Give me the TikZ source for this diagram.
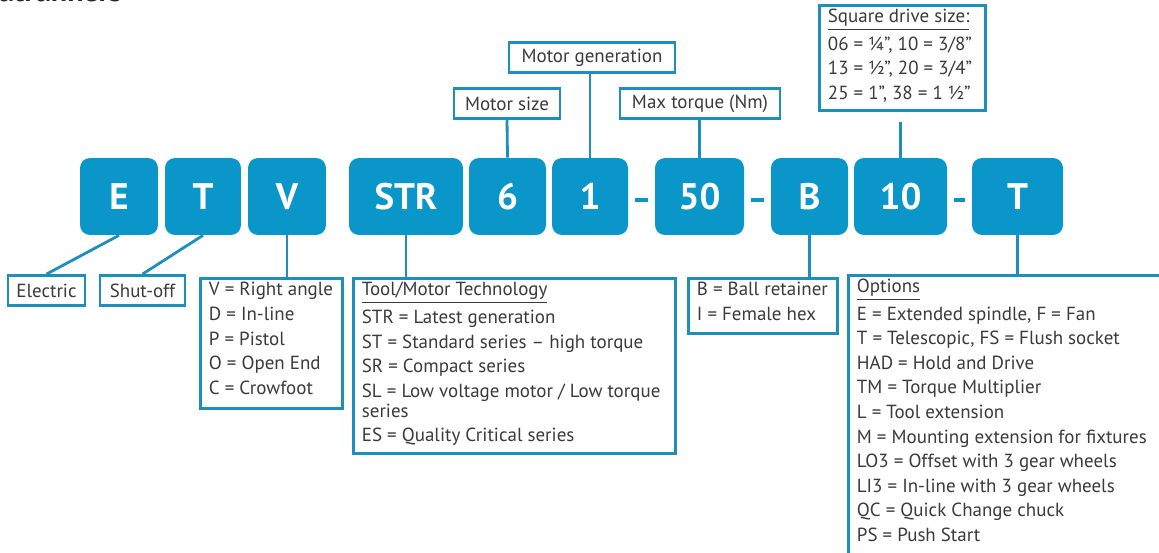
\documentclass[tikz,border=0pt]{standalone}
\usepackage{fontspec}
\setmainfont{PT Sans}
\usetikzlibrary{positioning, calc}
\definecolor{etvblue}{HTML}{0A96C8}
\definecolor{etvline}{HTML}{1E8FBA}
\definecolor{etvtext}{HTML}{3A3A3A}
\newcommand{\lstbody}[3]{\parbox[c][#1][t]{#2}{\raggedright #3}}

\begin{document}
\begin{tikzpicture}[
  x=0.02cm, y=-0.02cm,
  code/.style={fill=etvblue, rounded corners=0.2cm, minimum height=1.54cm, inner sep=0pt, text=white, font=\fontsize{21}{24}\selectfont\bfseries},
  tag/.style={draw=etvline, line width=1.6pt, minimum height=0.6cm, inner sep=0pt, text=etvtext, font=\fontsize{10.8}{11.3}\selectfont},
  lst/.style={draw=etvline, line width=1.6pt, anchor=north west, inner xsep=0.17cm, inner ysep=0.08cm, text=etvtext, font=\fontsize{10.8}{11.3}\selectfont},
  lnk/.style={etvline, line width=1.6pt},
  hyph/.style={etvblue, line width=2.8pt, shorten <=0.13cm, shorten >=0.13cm, transform canvas={yshift=-0.07cm}}
]
\useasboundingbox (0,0) rectangle (1159,553);
\node[anchor=base east, text=black!85, font=\fontsize{17}{20}\selectfont\bfseries] (ttl) at (128,2) {nutrunners};

% code boxes
\node[code, minimum width=1.56cm] (bE) at (119,196.5) {E};
\node[code, minimum width=1.52cm] (bT) at (203,196.5) {T};
\node[code, minimum width=1.56cm] (bV) at (287,196.5) {V};
\node[code, minimum width=2.28cm] (bSTR) at (406,196.5) {STR};
\node[code, minimum width=1.54cm] (b6) at (507.5,196.5) {6};
\node[code, minimum width=1.52cm] (b1) at (590,196.5) {1};
\node[code, minimum width=1.78cm] (b50) at (699.5,196.5) {50};
\node[code, minimum width=1.54cm] (bB) at (809.5,196.5) {B};
\node[code, minimum width=1.86cm] (b10) at (900.5,196.5) {10};
\node[code, minimum width=1.82cm] (bOpt) at (1017.5,196.5) {T};

\draw[hyph] (b1.east) -- (b50.west);
\draw[hyph] (b50.east) -- (bB.west);
\draw[hyph] (b10.east) -- (bOpt.west);

% labels above
\node[tag, minimum width=3.32cm] (mgen) at (592,57.5) {Motor generation};
\node[tag, minimum width=2.12cm] (msize) at (507,103.5) {Motor size};
\node[tag, minimum width=3.2cm] (mtorq) at (700,103.5) {Max torque (Nm)};
\node[lst] (sqd) at (818,4) {\lstbody{1.94cm}{2.98cm}{%
  \underline{Square drive size:}\\[2.7pt]
  06 = ¼”, 10 = 3/8”\\[2.7pt]
  13 = ½”, 20 = 3/4”\\[2.7pt]
  25 = 1”, 38 = 1 ½”}};
\coordinate (sqend) at (900.5,122);

% labels below
\node[tag, minimum width=1.54cm] (elec) at (46.5,290.5) {Electric};
\node[tag, minimum width=1.7cm] (shut) at (142.5,290.5) {Shut-off};
\node[lst] (vlst) at (199,277) {\lstbody{2.44cm}{2.5cm}{%
  V = Right angle\\[2.7pt]
  D = In-line\\[2.7pt]
  P = Pistol\\[2.7pt]
  O = Open End\\[2.7pt]
  C = Crowfoot}};
\node[lst] (tech) at (352,277) {\lstbody{3.34cm}{6.1cm}{%
  \underline{Tool/Motor Technology}\\[2.7pt]
  STR = Latest generation\\[2.7pt]
  ST = Standard series – high torque\\[2.7pt]
  SR = Compact series\\[2.7pt]
  SL = Low voltage motor / Low torque\\
  series\\[2.7pt]
  ES = Quality Critical series}};
\node[lst] (blst) at (687,277) {\lstbody{0.94cm}{2.64cm}{%
  B = Ball retainer\\[2.7pt]
  I = Female hex}};
\node[lst] (opts) at (847,274) {\lstbody{6.24cm}{6.4cm}{%
  \underline{Options}\\[2.7pt]
  E = Extended spindle, F = Fan\\[2.7pt]
  T = Telescopic, FS = Flush socket\\[2.7pt]
  HAD = Hold and Drive\\[2.7pt]
  TM = Torque Multiplier\\[2.7pt]
  L = Tool extension\\[2.7pt]
  M = Mounting extension for fixtures\\[2.7pt]
  LO3 = Offset with 3 gear wheels\\[2.7pt]
  LI3 = In-line with 3 gear wheels\\[2.7pt]
  QC = Quick Change chuck\\[2.7pt]
  PS = Push Start}};

% connectors
\draw[lnk] (b6.north) -- (msize.south);
\draw[lnk] (b1.north) -- (b1.north |- mgen.south);
\draw[lnk] (b50.north) -- (b50.north |- mtorq.south);
\draw[lnk] (b10.north) -- (sqend);
\draw[lnk] (bE.south) -- (elec.north);
\draw[lnk] (bT.south) -- (shut.north);
\draw[lnk] (bV.south) -- (bV.south |- vlst.north);
\draw[lnk] (bSTR.south) -- (bSTR.south |- tech.north);
\draw[lnk] (bB.south) -- (bB.south |- blst.north);
\draw[lnk] (bOpt.south) -- (bOpt.south |- opts.north);
\end{tikzpicture}
\end{document}
